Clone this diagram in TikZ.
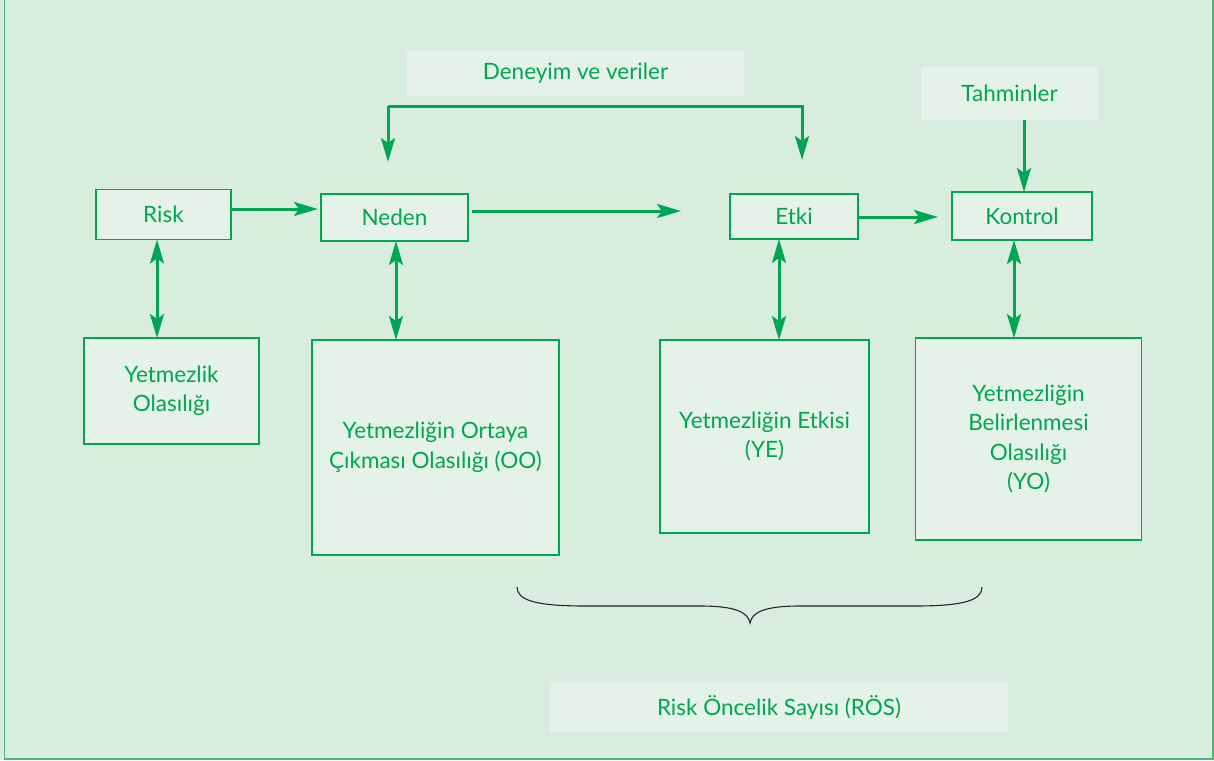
\documentclass[tikz,border=0pt]{standalone}
\usepackage{fontspec}
\setmainfont{Lato}
\usetikzlibrary{arrows.meta}
\definecolor{bg}{HTML}{D9EDDF}
\definecolor{boxfill}{HTML}{E4F2E7}
\definecolor{gr}{HTML}{00A651}
\definecolor{framegr}{HTML}{4DB874}
\tikzset{
  box/.style={draw=gr, line width=1.4pt, fill=boxfill, inner sep=0pt, outer sep=0pt, text=gr, align=center, font=\fontsize{22.5}{29.5}\selectfont},
  plainbox/.style={fill=boxfill, inner sep=0pt, outer sep=0pt, text=gr, align=center, font=\fontsize{22.5}{29.5}\selectfont},
  tip/.tip={Stealth[length=24pt,width=14pt,inset=5pt]},
  arr/.style={draw=gr, line width=3pt, -tip},
  darr/.style={draw=gr, line width=3pt, tip-tip},
}
\begin{document}
\begin{tikzpicture}[x=1pt,y=-1pt]
\useasboundingbox (0,0) rectangle (1214,760);
\fill[bg] (0,0) rectangle (1214,760);
\draw[framegr, line width=1.4pt] (4.5,0) -- (4.5,759) -- (1213,759) -- (1213,0);

% top row
\node[box, minimum width=135pt, minimum height=50pt] (risk) at (163.5,214.5) {Risk};
\node[box, minimum width=147pt, minimum height=47pt] (neden) at (394.5,217.5) {Neden};
\node[box, minimum width=128pt, minimum height=45pt] (etki) at (794,216.5) {Etki};
\node[box, minimum width=140pt, minimum height=48pt] (kontrol) at (1022,216) {Kontrol};

% input boxes
\node[plainbox, minimum width=337pt, minimum height=45pt] (deneyim) at (575.5,73.5) {Deneyim ve veriler};
\node[plainbox, minimum width=177pt, minimum height=53pt] (tahmin) at (1009.5,93.5) {Tahminler};
\node[plainbox, minimum width=458pt, minimum height=50pt] (ros) at (779,707) {Risk Öncelik Sayısı (RÖS)};

% lower boxes
\node[box, minimum width=175pt, minimum height=106pt] (yo1) at (171.5,391) {Yetmezlik\\Olasılığı};
\node[box, minimum width=247pt, minimum height=215pt] (oo) at (435.5,447.5) {Yetmezliğin Ortaya\\Çıkması Olasılığı (OO)};
\node[box, minimum width=209pt, minimum height=193pt] (ye) at (764.5,436.5) {Yetmezliğin Etkisi\\(YE)};
\node[box, minimum width=226pt, minimum height=202pt] (yob) at (1028.5,439) {Yetmezliğin\\Belirlenmesi\\Olasılığı\\(YO)};

% horizontal arrows
\draw[arr, shorten >=3pt] (risk.east |- 0,209) -- (neden.west |- 0,209);
\coordinate (nedenStart) at (472,211);
\coordinate (nedenEnd) at (681,211);
\draw[arr] (nedenStart) -- (nedenEnd);
\draw[arr, shorten >=14pt] (etki.east |- 0,217) -- (kontrol.west |- 0,217);
\draw[arr] (tahmin.south -| 1024,0) -- (kontrol.north -| 1024,0);

% Deneyim bracket
\coordinate (tl) at (388,106);
\coordinate (tr) at (802,106);
\coordinate (na) at (388,162);
\coordinate (ea) at (802,160);
\draw[arr] (tl) -- (na);
\draw[arr] (tl) -- (tr) -- (ea);

% vertical double arrows
\draw[darr] (risk.south -| 157,0) -- (yo1.north -| 157,0);
\draw[darr] (neden.south -| 396,0) -- (oo.north -| 396,0);
\draw[darr] (etki.south -| 779,0) -- (ye.north -| 779,0);
\draw[darr] (kontrol.south -| 1014,0) -- (yob.north -| 1014,0);

% brace
\draw[black!85, line width=1.1pt] (517,587) .. controls (517,600) and (535,606) .. (585,606) -- (700,606) .. controls (735,606) and (748,612) .. (750,623) .. controls (752,612) and (765,606) .. (800,606) -- (915,606) .. controls (965,606) and (982,600) .. (982,587);
\end{tikzpicture}
\end{document}
